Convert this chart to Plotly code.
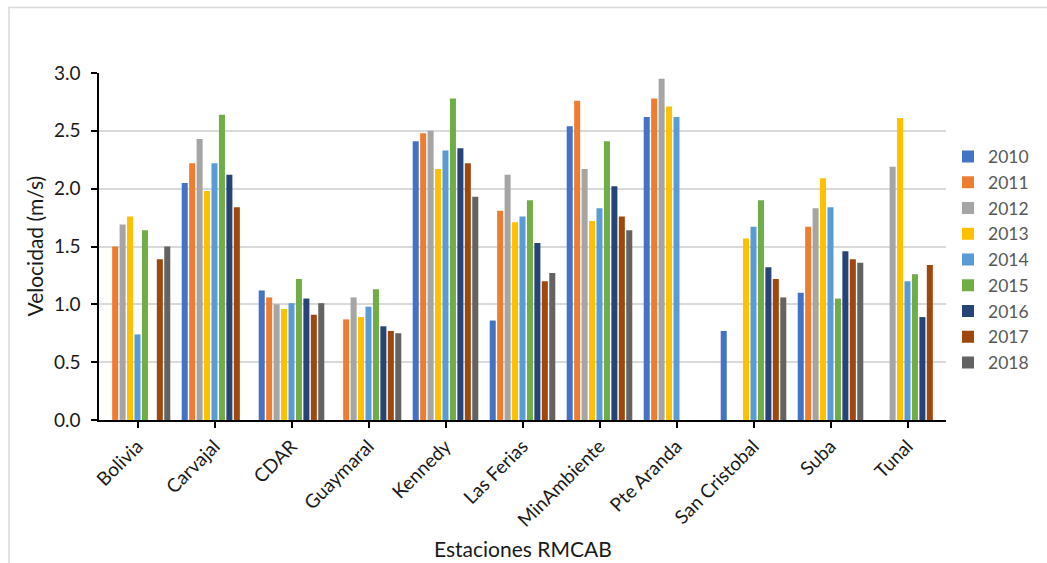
import plotly.graph_objects as go

stations = ["Bolivia", "Carvajal", "CDAR", "Guaymaral", "Kennedy", "Las Ferias",
            "MinAmbiente", "Pte Aranda", "San Cristobal", "Suba", "Tunal"]

years = ["2010", "2011", "2012", "2013", "2014", "2015", "2016", "2017", "2018"]

v2010 = [None, 2.05, 1.12, None, 2.41, 0.86, 2.54, 2.62, 0.77, 1.10, None]
v2011 = [1.50, 2.22, 1.06, 0.87, 2.48, 1.81, 2.76, 2.78, None, 1.67, None]
v2012 = [1.69, 2.43, 1.00, 1.06, 2.50, 2.12, 2.17, 2.95, None, 1.83, 2.19]
v2013 = [1.76, 1.98, 0.96, 0.89, 2.17, 1.71, 1.72, 2.71, 1.57, 2.09, 2.61]
v2014 = [0.74, 2.22, 1.01, 0.98, 2.33, 1.76, 1.83, 2.62, 1.67, 1.84, 1.20]
v2015 = [1.64, 2.64, 1.22, 1.13, 2.78, 1.90, 2.41, None, 1.90, 1.05, 1.26]
v2016 = [None, 2.12, 1.05, 0.81, 2.35, 1.53, 2.02, None, 1.32, 1.46, 0.89]
v2017 = [1.39, 1.84, 0.91, 0.77, 2.22, 1.20, 1.76, None, 1.22, 1.39, 1.34]
v2018 = [1.50, None, 1.01, 0.75, 1.93, 1.27, 1.64, None, 1.06, 1.36, None]

series = [v2010, v2011, v2012, v2013, v2014, v2015, v2016, v2017, v2018]
colors = ["#4472C4", "#ED7D31", "#A5A5A5", "#FFC000", "#5B9BD5",
          "#70AD47", "#264478", "#9E480E", "#636363"]

yticks = [0.0, 0.5, 1.0, 1.5, 2.0, 2.5, 3.0]
ytick_text = ["0.0", "0.5", "1.0", "1.5", "2.0", "2.5", "3.0"]

FONT = "Lato, 'Open Sans', sans-serif"

fig = go.Figure()
for name, vals, col in zip(years, series, colors):
    fig.add_trace(go.Bar(name=name, x=stations, y=vals, marker_color=col,
                         marker_line_width=0))

W, H = 1047, 563
L, R, T, B = 99, 101, 73, 143
pw = W - L - R
ph = H - T - B

fig.update_layout(
    width=W, height=H,
    margin=dict(l=L, r=R, t=T, b=B, autoexpand=False),
    paper_bgcolor="white", plot_bgcolor="white",
    barmode="group", bargap=0.13, bargroupgap=0.19,
    font=dict(family=FONT, size=19, color="#1a1a1a"),
    showlegend=True,
    legend=dict(x=(948 - L) / pw, xanchor="left", y=(H - B - 259.5) / ph, yanchor="middle",
                font=dict(family=FONT, size=17.5, color="#595959"),
                bgcolor="rgba(0,0,0,0)", tracegroupgap=0),
    xaxis=dict(type="category", showline=True, linecolor="#000000", linewidth=1.5,
               ticks="outside", ticklen=6, tickcolor="#000000", tickwidth=1.5,
               tickangle=-45, tickfont=dict(family=FONT, size=19, color="#1a1a1a"),
               showgrid=False, automargin=False, fixedrange=True),
    yaxis=dict(range=[0, 3], tickvals=yticks, ticktext=ytick_text,
               showline=True, linecolor="#000000", linewidth=1.5,
               ticks="outside", ticklen=6, tickcolor="#000000", tickwidth=1.5,
               ticklabelstandoff=7,
               showgrid=True, gridcolor="#d9d9d9", gridwidth=1.5,
               zeroline=False, tickfont=dict(family=FONT, size=19, color="#1a1a1a"),
               automargin=False, fixedrange=True),
    annotations=[
        dict(text="Estaciones RMCAB", xref="paper", yref="paper", x=0.5, y=0,
             xanchor="center", yanchor="middle", yshift=-(548 - (H - B)), showarrow=False,
             font=dict(family=FONT, size=21, color="#1a1a1a")),
        dict(text="Velocidad (m/s)", xref="paper", yref="paper", x=0, y=0.5,
             xanchor="center", yanchor="middle", xshift=-(L - 34), textangle=-90,
             showarrow=False, font=dict(family=FONT, size=21, color="#1a1a1a")),
    ],
    shapes=[
        dict(type="rect", xref="paper", yref="paper",
             x0=(9 - L) / pw, x1=(W + 20 - L) / pw,
             y0=(H - B - (H + 20)) / ph, y1=(H - B - 7.5) / ph,
             line=dict(color="#d9d9d9", width=1.5), fillcolor="rgba(0,0,0,0)", layer="below"),
    ],
)

fig.write_html("out.html", config={"displayModeBar": False},
               post_script="document.body.style.margin='0';document.body.style.overflow='hidden';")
